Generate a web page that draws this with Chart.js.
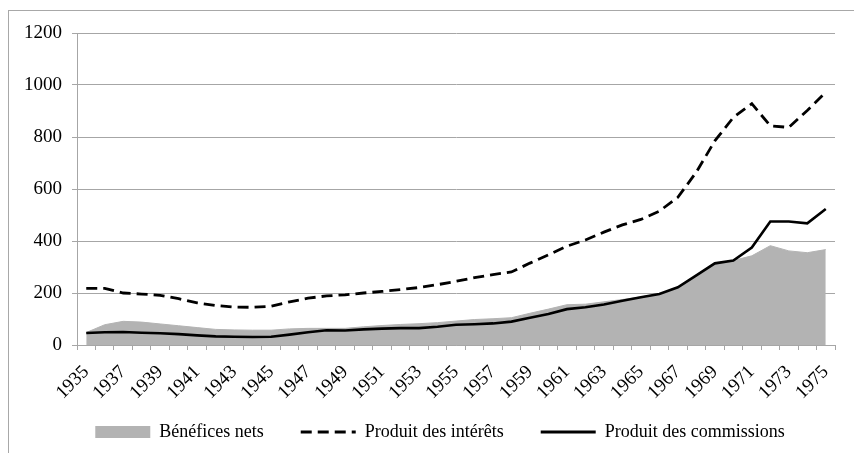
<!DOCTYPE html>
<html>
<head>
<meta charset="utf-8">
<script src="https://cdn.jsdelivr.net/npm/chart.js@4.4.1/dist/chart.umd.min.js"></script>
<style>
  html, body { margin: 0; padding: 0; background: #fff; }
  #wrap { position: relative; width: 854px; height: 453px; overflow: hidden; }
  #frame { position: absolute; left: 8px; top: 10px; right: -2px; bottom: -2px;
           border-left: 1px solid #a8a8a8; border-top: 1px solid #a8a8a8; pointer-events: none; }
  canvas { position: absolute; left: 0; top: 0; }
</style>
</head>
<body>
<div id="wrap">
  <canvas id="c" width="854" height="453"></canvas>
  <div id="frame"></div>
</div>
<script>
const years = [1935,1936,1937,1938,1939,1940,1941,1942,1943,1944,1945,1946,1947,1948,1949,1950,1951,1952,1953,1954,1955,1956,1957,1958,1959,1960,1961,1962,1963,1964,1965,1966,1967,1968,1969,1970,1971,1972,1973,1974,1975];

const beneficesNets = [48,78,91,88,81,74,67,60,58,57,57,62,64,64,64,70,75,79,82,86,92,98,101,105,122,138,155,157,166,175,185,197,222,268,314,325,343,382,362,355,367];

const produitInterets = [218,218,200,196,191,178,162,152,146,145,149,166,180,189,193,200,206,213,221,232,245,259,271,281,315,347,380,404,434,462,483,515,568,665,785,875,928,843,837,902,972];

const produitCommissions = [46,49,50,47,45,42,37,33,32,31,32,40,49,57,56,60,63,65,65,70,78,80,83,90,105,119,138,145,156,170,184,196,222,268,314,325,375,475,475,468,523];

const seriesNames = ['Bénéfices nets', 'Produit des intérêts', 'Produit des commissions'];
const yTicks = [0, 200, 400, 600, 800, 1000, 1200];

const GREY = '#b3b3b3';
const GRID = '#a6a6a6';
const FONT = 'Liberation Serif';

// widen the label clipping boxes of the axes so rotated / wide labels are not cut
const labelRoom = {
  id: 'labelRoom',
  afterLayout(chart) {
    chart.scales.y.left = 0;
    chart.scales.x.bottom = chart.height;
  }
};

const ctx = document.getElementById('c').getContext('2d');
new Chart(ctx, {
  type: 'line',
  plugins: [labelRoom],
  data: {
    labels: years.map(String),
    datasets: [
      {
        label: seriesNames[0],
        data: beneficesNets,
        fill: 'origin',
        backgroundColor: GREY,
        borderColor: GREY,
        borderWidth: 1,
        pointRadius: 0,
        tension: 0,
        order: 3
      },
      {
        label: seriesNames[1],
        data: produitInterets,
        fill: false,
        borderColor: '#000',
        backgroundColor: '#000',
        borderWidth: 2.8,
        borderDash: [11, 6],
        pointRadius: 0,
        tension: 0,
        order: 1
      },
      {
        label: seriesNames[2],
        data: produitCommissions,
        fill: false,
        borderColor: '#000',
        backgroundColor: '#000',
        borderWidth: 2.6,
        pointRadius: 0,
        tension: 0,
        order: 2
      }
    ]
  },
  options: {
    responsive: false,
    animation: false,
    events: [],
    layout: { padding: { left: 45, right: 19, top: 33, bottom: 2 } },
    font: { family: FONT, size: 18 },
    color: '#000',
    plugins: {
      title: { display: false },
      tooltip: { enabled: false },
      legend: {
        display: true,
        position: 'bottom',
        align: 'center',
        labels: {
          color: '#000',
          font: { family: FONT, size: 18 },
          usePointStyle: true,
          pointStyleWidth: 55,
          boxHeight: 12,
          padding: 37,
          generateLabels: (chart) => chart.data.datasets.map((ds, i) => ({
            text: ds.label,
            datasetIndex: i,
            fillStyle: i === 0 ? GREY : '#000',
            strokeStyle: i === 0 ? GREY : '#000',
            lineWidth: i === 0 ? 0 : 2.8,
            lineDash: i === 1 ? [11, 6] : [],
            pointStyle: i === 0 ? 'rect' : 'line',
            fontColor: '#000',
            hidden: false
          }))
        }
      }
    },
    scales: {
      x: {
        type: 'category',
        offset: true,
        grid: {
          display: true,
          offset: true,
          drawOnChartArea: false,
          drawTicks: true,
          tickLength: 5,
          color: GRID
        },
        border: { display: true, color: GRID, width: 1 },
        ticks: {
          autoSkip: false,
          minRotation: 45,
          maxRotation: 45,
          padding: 11,
          color: '#000',
          font: { family: FONT, size: 19 },
          callback: function(value, index) {
            return index % 2 === 0 ? this.getLabelForValue(value) : '';
          }
        },
        afterFit: (s) => { s.height = 41; }
      },
      y: {
        min: yTicks[0],
        max: yTicks[yTicks.length - 1],
        afterBuildTicks: (s) => { s.ticks = yTicks.map(v => ({ value: v })); },
        grid: {
          display: true,
          drawOnChartArea: true,
          drawTicks: true,
          tickLength: 5,
          color: GRID,
          lineWidth: 1
        },
        border: { display: true, color: GRID, width: 1 },
        ticks: {
          padding: 10,
          color: '#000',
          font: { family: FONT, size: 19 },
          callback: (v) => String(v)
        },
        afterFit: (s) => { s.width = 32; }
      }
    }
  }
});
</script>
</body>
</html>
